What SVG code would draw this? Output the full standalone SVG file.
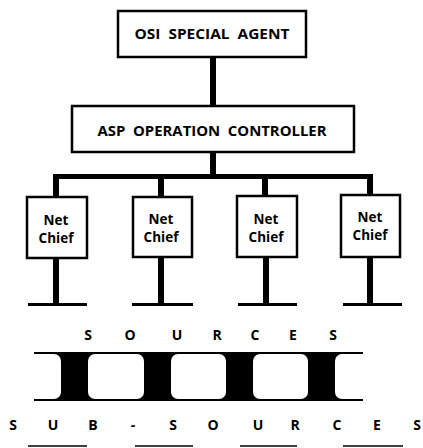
<svg xmlns="http://www.w3.org/2000/svg" width="423" height="448" viewBox="0 0 423 448">
<style>
.box{fill:#fff;stroke:#000;stroke-width:2.5}
.t{font-family:"Open Sans","Liberation Sans",sans-serif;font-weight:700;fill:#000;white-space:pre}
.big{font-size:14.5px}
.nc{font-size:13.5px;text-anchor:middle}
.sp{font-size:14px;text-anchor:middle}
.bar{fill:#000}
.thin{stroke:#000;stroke-width:1.5}
</style>
<g id="connectors">
<rect class="bar" x="210" y="57" width="6" height="50"/>
<rect class="bar" x="210" y="152" width="6" height="24"/>
<rect class="bar" x="53" y="174" width="320" height="5"/>
<rect class="bar" x="53" y="174" width="6" height="24"/>
<rect class="bar" x="158" y="174" width="6" height="24"/>
<rect class="bar" x="262" y="174" width="6" height="23"/>
<rect class="bar" x="367" y="174" width="6" height="22"/>
<rect class="bar" x="53" y="258" width="6" height="46"/>
<rect class="bar" x="158" y="257" width="6" height="47"/>
<rect class="bar" x="263" y="257" width="6" height="47"/>
<rect class="bar" x="367" y="257" width="6" height="47"/>
<rect class="bar" x="28" y="303" width="59" height="3"/>
<rect class="bar" x="132" y="303" width="61" height="3"/>
<rect class="bar" x="238" y="303" width="59" height="3"/>
<rect class="bar" x="343" y="303" width="59" height="3"/>
</g>
<g id="osi-special-agent">
<rect class="box" x="118" y="11" width="188" height="46"/>
<text class="t big" x="212" y="39" text-anchor="middle" textLength="155" lengthAdjust="spacingAndGlyphs">OSI  SPECIAL  AGENT</text>
</g>
<g id="asp-operation-controller">
<rect class="box" x="72" y="106" width="282" height="46"/>
<text class="t big" x="212" y="136" text-anchor="middle" textLength="229" lengthAdjust="spacingAndGlyphs">ASP  OPERATION  CONTROLLER</text>
</g>
<g id="net-chief-1">
<rect class="box" x="27" y="197" width="60" height="61"/>
<text class="t nc" x="56" y="225">Net</text>
<text class="t nc" x="56" y="243">Chief</text>
</g>
<g id="net-chief-2">
<rect class="box" x="133" y="197" width="59" height="60"/>
<text class="t nc" x="161" y="224">Net</text>
<text class="t nc" x="161" y="242">Chief</text>
</g>
<g id="net-chief-3">
<rect class="box" x="237" y="196" width="60" height="61"/>
<text class="t nc" x="266" y="224">Net</text>
<text class="t nc" x="266" y="242">Chief</text>
</g>
<g id="net-chief-4">
<rect class="box" x="341" y="195" width="59" height="62"/>
<text class="t nc" x="370" y="222">Net</text>
<text class="t nc" x="370" y="240">Chief</text>
</g>
<g id="sources">
<text class="t sp" x="88 130 177 217 255 293 333" y="340">SOURCES</text>
</g>
<g id="film-strip">
<rect x="34" y="352" width="329" height="49" fill="#000"/>
<rect x="10" y="354" width="51" height="45" rx="7" fill="#fff"/>
<rect x="88" y="354" width="56" height="45" rx="7" fill="#fff"/>
<rect x="171" y="354" width="55" height="45" rx="7" fill="#fff"/>
<rect x="253" y="354" width="55" height="45" rx="7" fill="#fff"/>
<rect x="335" y="354" width="50" height="45" rx="7" fill="#fff"/>
<rect x="363" y="350" width="30" height="53" fill="#fff"/>
<rect x="0" y="350" width="34" height="53" fill="#fff"/>
</g>
<g id="sub-sources">
<text class="t sp" x="13 53 93 133 173 213 258 295 337 377 417" y="430">SUB-SOURCES</text>
</g>
<g id="bottom-lines">
<line class="thin" x1="28" y1="446" x2="87" y2="446"/>
<line class="thin" x1="135" y1="446" x2="193" y2="446"/>
<line class="thin" x1="240" y1="446" x2="297" y2="446"/>
<line class="thin" x1="343" y1="446" x2="403" y2="446"/>
</g>
</svg>
